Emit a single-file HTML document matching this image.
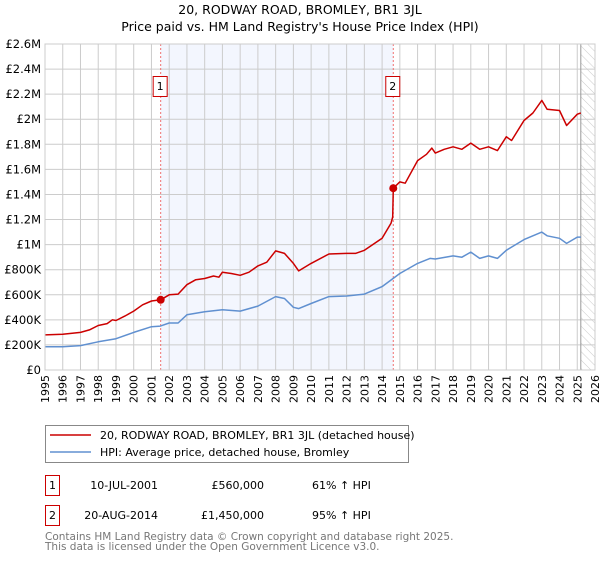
<!DOCTYPE html>
<html><head><meta charset="utf-8"><style>
body{margin:0;background:#fff;font-family:"DejaVu Sans","Liberation Sans",sans-serif}
svg text{font-family:"DejaVu Sans","Liberation Sans",sans-serif}
</style></head><body>
<svg id="chart" width="600" height="560" viewBox="0 0 600 560">
<defs><pattern id="hatch" width="6" height="6" patternUnits="userSpaceOnUse" patternTransform="rotate(-45)"><line x1="0" y1="0" x2="0" y2="6" stroke="#ccc" stroke-width="1"/></pattern></defs>
<text x="300" y="14" text-anchor="middle" font-size="12.5">20, RODWAY ROAD, BROMLEY, BR1 3JL</text>
<text x="300" y="31" text-anchor="middle" font-size="12.5">Price paid vs. HM Land Registry's House Price Index (HPI)</text>
<g id="plot"></g>
<g>
<rect x="45.5" y="425.5" width="363" height="37" fill="#fff" stroke="#888"/>
<line x1="50" y1="435" x2="91" y2="435" stroke="#cc0000" stroke-width="1.5"/>
<text x="100" y="439" font-size="11">20, RODWAY ROAD, BROMLEY, BR1 3JL (detached house)</text>
<line x1="50" y1="452" x2="91" y2="452" stroke="#6090d0" stroke-width="1.5"/>
<text x="100" y="456" font-size="11">HPI: Average price, detached house, Bromley</text>
</g>
<g font-size="11">
<rect x="45.5" y="475.5" width="14" height="20" fill="#fff" stroke="#cc0000"/><text x="52.5" y="489" text-anchor="middle">1</text>
<text x="158" y="489" text-anchor="end">10-JUL-2001</text><text x="264" y="489" text-anchor="end">£560,000</text><text x="312" y="489">61% ↑ HPI</text>
<rect x="45.5" y="505.5" width="14" height="20" fill="#fff" stroke="#cc0000"/><text x="52.5" y="519" text-anchor="middle">2</text>
<text x="158" y="519" text-anchor="end">20-AUG-2014</text><text x="264" y="519" text-anchor="end">£1,450,000</text><text x="312" y="519">95% ↑ HPI</text>
</g>
<g font-size="10.5" fill="#777">
<text x="45" y="540">Contains HM Land Registry data © Crown copyright and database right 2025.</text>
<text x="45" y="550">This data is licensed under the Open Government Licence v3.0.</text>
</g>
</svg>
<script>
const yearTicks=[1995,1996,1997,1998,1999,2000,2001,2002,2003,2004,2005,2006,2007,2008,2009,2010,2011,2012,2013,2014,2015,2016,2017,2018,2019,2020,2021,2022,2023,2024,2025,2026];
const valueTicks=[0,0.2,0.4,0.6,0.8,1,1.2,1.4,1.6,1.8,2,2.2,2.4,2.6];
const valueLabels=["£0","£200K","£400K","£600K","£800K","£1M","£1.2M","£1.4M","£1.6M","£1.8M","£2M","£2.2M","£2.4M","£2.6M"];
const redYears=[1995,1996,1997,1997.5,1998,1998.5,1998.8,1999,1999.5,2000,2000.5,2001,2001.52,2002,2002.5,2003,2003.5,2004,2004.5,2004.8,2005,2005.5,2006,2006.5,2007,2007.5,2008,2008.5,2009,2009.3,2010,2011,2012,2012.5,2013,2014,2014.5,2014.6,2014.63,2015,2015.3,2016,2016.5,2016.8,2017,2017.5,2018,2018.5,2019,2019.5,2020,2020.5,2021,2021.3,2022,2022.5,2023,2023.3,2024,2024.4,2025,2025.2];
const redValues=[0.28,0.285,0.3,0.32,0.355,0.37,0.4,0.395,0.43,0.47,0.52,0.55,0.56,0.6,0.605,0.68,0.72,0.73,0.75,0.74,0.78,0.77,0.755,0.78,0.83,0.86,0.95,0.93,0.85,0.79,0.85,0.925,0.93,0.93,0.955,1.05,1.17,1.22,1.45,1.5,1.49,1.67,1.72,1.77,1.73,1.76,1.78,1.76,1.81,1.76,1.78,1.75,1.86,1.83,1.99,2.05,2.15,2.08,2.07,1.95,2.04,2.05];
const blueYears=[1995,1996,1997,1998,1999,2000,2001,2001.5,2002,2002.5,2003,2004,2005,2006,2007,2008,2008.5,2009,2009.3,2010,2011,2012,2013,2014,2015,2016,2016.7,2017,2018,2018.5,2019,2019.5,2020,2020.5,2021,2022,2022.5,2023,2023.3,2024,2024.4,2025,2025.2];
const blueValues=[0.186,0.185,0.195,0.225,0.25,0.3,0.345,0.35,0.375,0.375,0.44,0.465,0.48,0.47,0.51,0.585,0.57,0.5,0.49,0.53,0.585,0.59,0.605,0.665,0.77,0.85,0.89,0.885,0.91,0.9,0.94,0.89,0.91,0.89,0.955,1.04,1.07,1.1,1.07,1.05,1.01,1.06,1.06];
const saleYears=[2001.52,2014.63];
const saleValues=[0.56,1.45];
const saleLabels=["1","2"];
const shadeStart=2001.52, shadeEnd=2014.63, hatchStart=2025.2;

const NS="http://www.w3.org/2000/svg";
const X0=45,X1=595,Y0=370,Y1=44,YMIN=1995,YMAX=2026,VMAX=2.6;
const xs=y=>X0+(y-YMIN)/(YMAX-YMIN)*(X1-X0);
const ys=v=>Y0-v/VMAX*(Y0-Y1);
const plot=document.getElementById('plot');
function mk(t,a,p){const e=document.createElementNS(NS,t);for(const k in a)e.setAttribute(k,a[k]);(p||plot).appendChild(e);return e;}

const shade=mk('rect',{x:xs(shadeStart),y:Y1,width:xs(shadeEnd)-xs(shadeStart),height:Y0-Y1,fill:'#f3f6fe'});


const hatch=mk('rect',{x:xs(hatchStart),y:Y1,width:X1-xs(hatchStart),height:Y0-Y1,fill:'url(#hatch)'});



yearTicks.forEach(yr=>{
  const l=mk('line',{x1:xs(yr),x2:xs(yr),y1:Y1,y2:Y0,stroke:'#ccc','stroke-width':1});
  
  
  const t=mk('text',{x:0,y:0,'font-size':11,'text-anchor':'end',transform:`translate(${xs(yr)+4},${Y0+5}) rotate(-90)`});
  t.textContent=yr;
  
  
});
valueTicks.forEach((v,i)=>{
  const l=mk('line',{x1:X0,x2:X1,y1:ys(v),y2:ys(v),stroke:'#ccc','stroke-width':1});
  
  
  const t=mk('text',{x:X0-4,y:ys(v)+4,'font-size':11.5,'text-anchor':'end'});
  t.textContent=valueLabels[i];
  
  
});
const vl=mk('line',{x1:xs(hatchStart),x2:xs(hatchStart),y1:Y1,y2:Y0,stroke:'#999','stroke-width':1});



saleYears.forEach((yr,i)=>{
  const l=mk('line',{x1:xs(yr),x2:xs(yr),y1:Y1,y2:Y0,stroke:'#f07070','stroke-width':1,'stroke-dasharray':'2,2'});
  
  
});

function line(xa,va,color,name){
  const d=xa.map((x,i)=>(i?'L':'M')+xs(x).toFixed(1)+','+ys(va[i]).toFixed(1)).join('');
  const p=mk('path',{d:d,fill:'none',stroke:color,'stroke-width':1.5,'stroke-linejoin':'round'});
  
  
}
line(blueYears,blueValues,'#6090d0','hpi-line');
line(redYears,redValues,'#cc0000','price-paid-line');

saleYears.forEach((yr,i)=>{
  const c=mk('circle',{cx:xs(yr),cy:ys(saleValues[i]),r:4,fill:'#cc0000'});
  
  
  const b=mk('rect',{x:xs(yr)-7.5,y:76.5,width:14,height:20,fill:'#fff',stroke:'#cc0000'});
  
  
  const t=mk('text',{x:xs(yr)-0.5,y:90,'font-size':11,'text-anchor':'middle'});
  t.textContent=saleLabels[i];
  
  
});
const border=mk('rect',{x:X0,y:Y1,width:X1-X0,height:Y0-Y1,fill:'none',stroke:'#ccc'});


</script>
</body></html>
